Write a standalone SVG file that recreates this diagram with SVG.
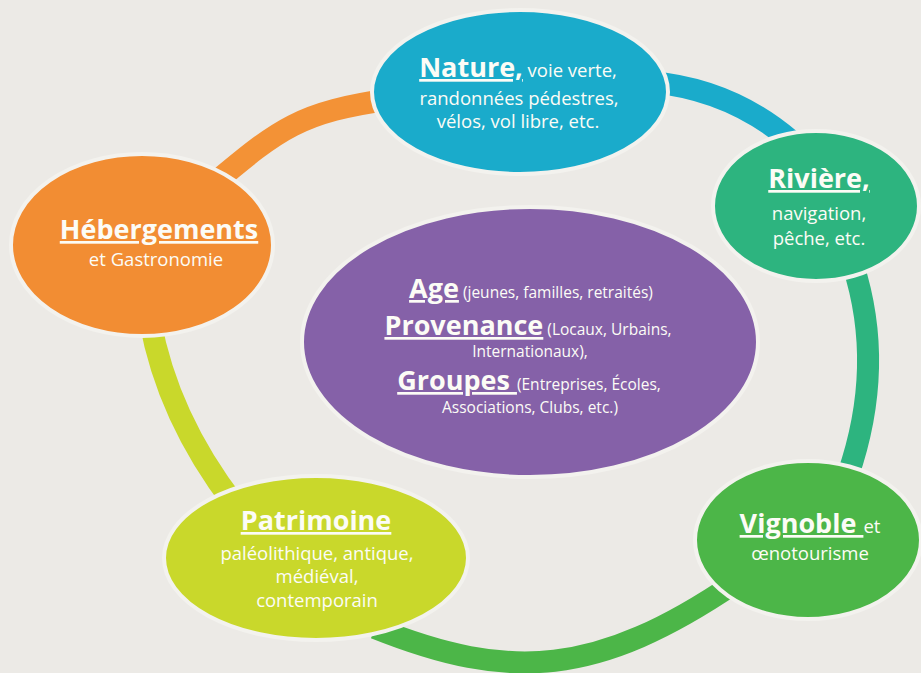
<svg xmlns="http://www.w3.org/2000/svg" width="921" height="673" viewBox="0 0 921 673">
  <style>
    .arc { fill: none; stroke-width: 22; stroke-linecap: butt; }
    .node { stroke: #F3F2EE; stroke-width: 4; }
    .t { fill: #FCFCF6; font-family: "Open Sans", "Liberation Sans", sans-serif; text-anchor: middle; }
    .h { font-weight: bold; font-size: 27px; text-decoration: underline; }
    .s { font-size: 18.5px; }
    .c { font-size: 15.5px; }
  </style>
  <rect x="0" y="0" width="921" height="673" fill="#ECEAE6"/>

  <g id="connectors">
    <path class="arc" stroke="#F39236" d="M212,185 C280,128 300,112 392,99"/>
    <path class="arc" stroke="#1AABCB" d="M650,82 Q730,89 790,140"/>
    <path class="arc" stroke="#2DB47F" d="M853,265 Q885.5,366 848,475"/>
    <path class="arc" stroke="#4CB648" d="M735,583 C597.6,676 510.8,682.3 375,628"/>
    <path class="arc" stroke="#C9D82B" d="M150,320 Q167.5,417.5 235,505"/>
  </g>

  <g id="center">
    <ellipse class="node" cx="530" cy="342" rx="228" ry="135" fill="#8561A8"/>
    <text class="t" x="531" y="298"><tspan class="h">Age</tspan><tspan class="c"> (jeunes, familles, retraités)</tspan></text>
    <text class="t" x="528" y="335"><tspan class="h">Provenance</tspan><tspan class="c"> (Locaux, Urbains,</tspan></text>
    <text class="t c" x="530" y="357">Internationaux),</text>
    <text class="t" x="529" y="390"><tspan class="h">Groupes </tspan><tspan class="c">(Entreprises, Écoles,</tspan></text>
    <text class="t c" x="530" y="413">Associations, Clubs, etc.)</text>
  </g>

  <g id="nature">
    <ellipse class="node" cx="520" cy="92" rx="148" ry="82" fill="#1AABCB"/>
    <text class="t" x="518" y="77"><tspan class="h">Nature,</tspan><tspan class="s"> voie verte,</tspan></text>
    <text class="t s" x="519" y="105">randonnées pédestres,</text>
    <text class="t s" x="518" y="128">vélos, vol libre, etc.</text>
  </g>

  <g id="riviere">
    <ellipse class="node" cx="816" cy="206" rx="103" ry="75" fill="#2DB47F"/>
    <text class="t h" x="819" y="188">Rivière,</text>
    <text class="t s" x="819" y="220">navigation,</text>
    <text class="t s" x="819" y="245">pêche, etc.</text>
  </g>

  <g id="hebergements">
    <ellipse class="node" cx="142" cy="245" rx="131" ry="91" fill="#F28D33"/>
    <text class="t h" x="159" y="239">Hébergements</text>
    <text class="t s" x="156" y="266">et Gastronomie</text>
  </g>

  <g id="patrimoine">
    <ellipse class="node" cx="316" cy="558" rx="152" ry="82" fill="#C9D82B"/>
    <text class="t h" x="316" y="530">Patrimoine</text>
    <text class="t s" x="317" y="560">paléolithique, antique,</text>
    <text class="t s" x="317" y="583">médiéval,</text>
    <text class="t s" x="317" y="607">contemporain</text>
  </g>

  <g id="vignoble">
    <ellipse class="node" cx="808" cy="540" rx="113" ry="79" fill="#4CB648"/>
    <text class="t" x="810" y="533"><tspan class="h">Vignoble </tspan><tspan class="s">et</tspan></text>
    <text class="t s" x="810" y="560">œnotourisme</text>
  </g>
</svg>
